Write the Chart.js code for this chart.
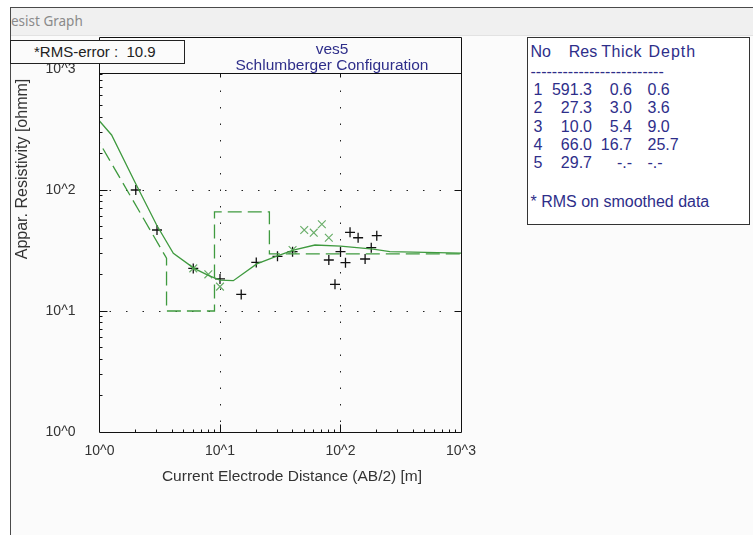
<!DOCTYPE html>
<html>
<head>
<meta charset="utf-8">
<title>Resist Graph</title>
<script src="https://cdn.jsdelivr.net/npm/chart.js@4.4.1/dist/chart.umd.min.js"></script>
<style>
	body { margin: 0; background: #fff; font-family: 'Liberation Sans', Arial, sans-serif; }
	#wrap { position: relative; width: 753px; height: 535px; overflow: hidden; }
	#win { position: absolute; left: 10px; top: 7px; width: 760px; height: 540px; border-left: 1px solid #4a4a4a; border-top: 1px solid #4a4a4a; background: #fbfbfb; }
	#bar { position: absolute; left: 11px; top: 8px; width: 760px; height: 27px; background: #f0f0f0; border-bottom: 1px solid #e2e2e2; color: #8a8a8a; font: 13.5px 'Noto Sans', sans-serif; line-height: 27px; }
	#graph { position: absolute; left: 0; top: 0; z-index: 1; }
	.over { position: absolute; z-index: 2; white-space: pre; }
	#rms { left: 10px; top: 40px; width: 175px; height: 24px; box-sizing: border-box; border: 1px solid #222; background: #fbfbfb; font-size: 15px; line-height: 22px; padding-left: 23px; color: #222; }
	.ttl { left: 182px; width: 300px; text-align: center; font-size: 15.5px; line-height: 20px; color: #2e2e8a; }
	#xtitle { left: 142px; top: 466px; width: 300px; text-align: center; font-size: 15.5px; line-height: 20px; color: #333; }
	#ytitle { left: -78px; top: 159px; width: 200px; text-align: center; font-size: 16px; line-height: 20px; color: #333; transform: rotate(-90deg); }
	#table { left: 527px; top: 37px; width: 223px; height: 188px; box-sizing: border-box; border: 1px solid #333; background: #fff; z-index: 2; }
	#table span { position: absolute; font-size: 16px; line-height: 18px; color: #2e2e8a; white-space: pre; }
</style>
</head>
<body>
<div id="wrap">
	<div id="win"></div>
	<div id="bar">esist Graph</div>
	<canvas id="graph" width="753" height="535"></canvas>
	<div class="over" id="rms">*RMS-error :  10.9</div>
	<div class="over ttl" style="top: 39px;">ves5</div>
	<div class="over ttl" style="top: 55px;">Schlumberger Configuration</div>
	<div class="over" id="xtitle">Current Electrode Distance (AB/2) [m]</div>
	<div class="over" id="ytitle">Appar. Resistivity [ohmm]</div>
	<div class="over" id="table"></div>
</div>
<script>
// axis decades and their labels
const decades = [1, 10, 100, 1000];
const xTickLabels = ['10^0', '10^1', '10^2', '10^3'];
const yTickLabels = ['10^0', '10^1', '10^2', '10^3'];

// measured apparent resistivity (+)
const obsX = [2, 3, 6, 10, 15, 20, 30, 40, 80, 90, 100, 110, 120, 140, 160, 180, 200];
const obsY = [100, 46.7, 22.5, 18.4, 13.7, 25.2, 28.3, 30.9, 26.4, 16.6, 30.9, 25.1, 44.7, 40.3, 26.9, 33.4, 41.9];

// smoothed data (x)
const smoothX = [6, 8, 10, 40, 50, 60, 70, 80];
const smoothY = [22.5, 20.1, 15.9, 31.9, 46.7, 44.4, 52.1, 40.3];

// calculated curve of the model
const modelX = [1, 1.26, 1.97, 2.98, 4.1, 6.1, 8, 10, 12.9, 20.2, 30, 40.6, 61.4, 100, 187, 257, 1000];
const modelY = [372, 285, 116, 51.4, 30, 22.5, 19.7, 18.0, 17.8, 24.5, 28.5, 31.9, 35.1, 34.4, 32.4, 30.9, 30.1];

// layered model
const layerNo = [1, 2, 3, 4, 5];
const layerRes = [591.3, 27.3, 10.0, 66.0, 29.7];
const layerThick = [0.6, 3.0, 5.4, 16.7];
const layerDepth = [0.6, 3.6, 9.0, 25.7];

const GREEN = '#3f9a3f';

const zip = (xs, ys) => xs.map((x, i) => ({ x: x, y: ys[i] }));

// step line of the model, as the program draws it
const stepPoints = [{ x: layerDepth[0], y: layerRes[0] }, { x: layerDepth[1], y: layerRes[1] }];
for (let i = 1; i < layerDepth.length; i++) {
	stepPoints.push({ x: layerDepth[i], y: layerRes[i + 1] });
	if (i + 1 < layerDepth.length) stepPoints.push({ x: layerDepth[i + 1], y: layerRes[i + 1] });
}
stepPoints.push({ x: 1000, y: layerRes[layerRes.length - 1] });

// table on the right
const table = document.getElementById('table');
const fmt = v => (v === undefined ? '-.-' : v.toFixed(1));
function cell(text, x, y, right, spacing) {
	const s = document.createElement('span');
	s.textContent = text;
	s.style.top = (y - 37 - 1 - 9) + 'px';
	if (right) s.style.right = (749 - x) + 'px';
	else s.style.left = (x - 527 - 1) + 'px';
	if (spacing) s.style.letterSpacing = spacing;
	table.appendChild(s);
}
cell('No', 530.5, 51.7);
cell('Res', 568.7, 51.7);
cell('Thick', 601.3, 51.7, false, '0.5px');
cell('Depth', 648.5, 51.7, false, '1px');
cell('-'.repeat(25), 530.5, 72.3);
layerNo.forEach((n, i) => {
	const y = 90 + i * 18.33;
	cell(String(n), 533.5, y);
	cell(fmt(layerRes[i]), 592, y, true);
	cell(fmt(layerThick[i]), 632, y, true);
	cell(fmt(layerDepth[i]), 647.5, y);
});
cell('* RMS on smoothed data', 530.5, 201.7);

const crisp = v => Math.floor(v) + 0.5;
const FRAME_TOP = 73.5;
const OUTER_TOP = 37.5;

const frame = {
	id: 'frame',
	beforeDatasetsDraw(chart) {
		const { ctx, chartArea: a, scales: { x, y } } = chart;
		ctx.save();
		ctx.strokeStyle = '#222';
		ctx.lineWidth = 1;
		ctx.setLineDash([1.5, 15]);
		[10, 100].forEach(v => {
			const px = crisp(x.getPixelForValue(v));
			ctx.beginPath();
			ctx.moveTo(px, a.bottom - 10);
			ctx.lineTo(px, FRAME_TOP);
			ctx.stroke();
			const py = crisp(y.getPixelForValue(v));
			ctx.beginPath();
			ctx.moveTo(a.left + 10, py);
			ctx.lineTo(a.right - 8, py);
			ctx.stroke();
		});
		ctx.restore();
	},
	afterDatasetsDraw(chart) {
		const { ctx, chartArea: a, scales: { x, y } } = chart;
		const L = crisp(a.left), R = crisp(a.right), B = crisp(a.bottom);
		ctx.save();
		ctx.strokeStyle = '#111';
		ctx.lineWidth = 1;
		ctx.beginPath();
		ctx.moveTo(L, OUTER_TOP); ctx.lineTo(R, OUTER_TOP);
		ctx.moveTo(L, OUTER_TOP); ctx.lineTo(L, B); ctx.lineTo(R, B); ctx.lineTo(R, OUTER_TOP);
		ctx.moveTo(L, FRAME_TOP); ctx.lineTo(R, FRAME_TOP);
		// inward ticks
		[1, 10, 100].forEach(d => {
			for (let m = 2; m <= 9; m++) {
				const px = crisp(x.getPixelForValue(d * m));
				ctx.moveTo(px, B); ctx.lineTo(px, B - 3);
				const py = crisp(y.getPixelForValue(d * m));
				if (py > FRAME_TOP) { ctx.moveTo(L, py); ctx.lineTo(L + 3, py); }
			}
		});
		[10, 100].forEach(v => {
			const px = crisp(x.getPixelForValue(v));
			ctx.moveTo(px, B); ctx.lineTo(px, B - 8);
			ctx.moveTo(px, FRAME_TOP); ctx.lineTo(px, FRAME_TOP + 4);
			const py = crisp(y.getPixelForValue(v));
			ctx.moveTo(L, py); ctx.lineTo(L + 8, py);
			ctx.moveTo(R, py); ctx.lineTo(R - 7, py);
		});
		ctx.stroke();
		ctx.restore();
	},
};

const tickFont = { family: "'Liberation Sans', Arial, sans-serif", size: 14 };

new Chart(document.getElementById('graph'), {
	type: 'scatter',
	data: {
		datasets: [
			{
				label: 'Model',
				data: stepPoints,
				showLine: true,
				borderColor: GREEN,
				borderWidth: 1.3,
				borderDash: [14, 6],
				pointRadius: 0,
			},
			{
				label: 'Calculated',
				data: zip(modelX, modelY),
				showLine: true,
				borderColor: GREEN,
				borderWidth: 1.3,
				pointRadius: 0,
			},
			{
				label: 'Smoothed',
				data: zip(smoothX, smoothY),
				pointStyle: 'crossRot',
				pointRadius: 5.5,
				borderColor: '#6aae6a',
				borderWidth: 1.2,
			},
			{
				label: 'Measured',
				data: zip(obsX, obsY),
				pointStyle: 'cross',
				pointRadius: 5,
				borderColor: '#111',
				borderWidth: 1.3,
			},
		],
	},
	options: {
		responsive: false,
		animation: false,
		devicePixelRatio: 1,
		events: [],
		layout: { padding: { left: 8, top: 69, right: 292, bottom: 0 } },
		plugins: {
			legend: { display: false },
			tooltip: { enabled: false },
		},
		scales: {
			x: {
				type: 'logarithmic',
				position: 'bottom',
				min: 1,
				max: 1000,
				afterBuildTicks: s => { s.ticks = decades.map(v => ({ value: v })); },
				afterFit: s => { s.height = 103; },
				grid: { display: false, drawTicks: false },
				border: { display: false },
				ticks: {
					autoSkip: false,
					maxRotation: 0,
					padding: 11,
					color: '#333',
					font: tickFont,
					callback: (v, i) => xTickLabels[i],
				},
			},
			y: {
				type: 'logarithmic',
				position: 'left',
				min: 1,
				max: 1000,
				afterBuildTicks: s => { s.ticks = decades.map(v => ({ value: v })); },
				afterFit: s => { s.width = 91.5; },
				grid: { display: false, drawTicks: false },
				border: { display: false },
				ticks: {
					autoSkip: false,
					padding: 24,
					color: '#333',
					font: tickFont,
					callback: (v, i) => yTickLabels[i],
				},
			},
		},
	},
	plugins: [frame],
});
</script>
</body>
</html>
